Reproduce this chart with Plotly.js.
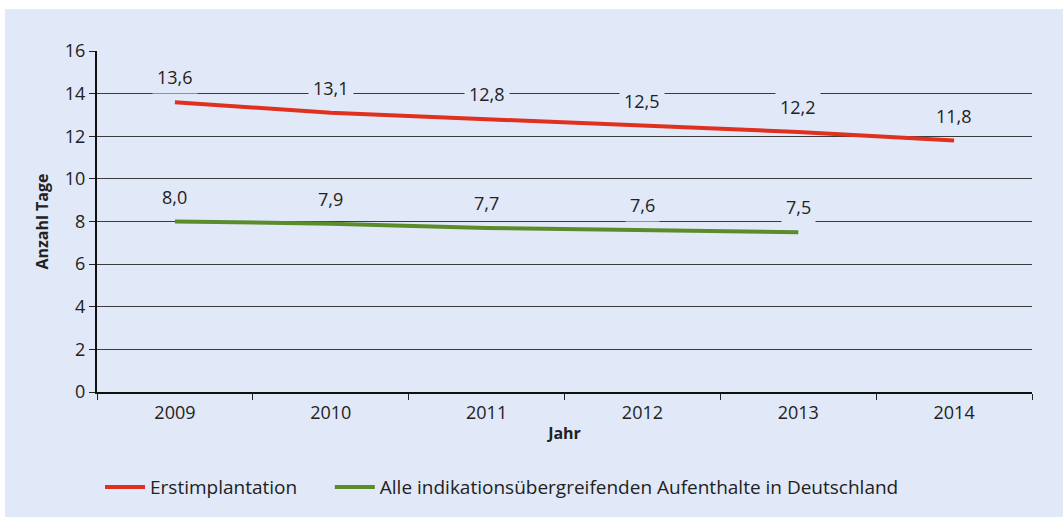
<!DOCTYPE html>
<html><head><meta charset="utf-8">
<script src="https://cdn.plot.ly/plotly-3.0.1.min.js"></script>
<style>html,body{margin:0;padding:0;background:#fff;}#chart{position:absolute;left:5px;top:9px;width:1058px;height:508px;}</style>
</head><body><div id="chart"></div>
<script>
const years = ["2009","2010","2011","2012","2013","2014"];
const erstimplantation = [13.6, 13.1, 12.8, 12.5, 12.2, 11.8];
const alleYears = ["2009","2010","2011","2012","2013"];
const alleAufenthalte = [8.0, 7.9, 7.7, 7.6, 7.5];
const yTicks = [0,2,4,6,8,10,12,14,16];

const bg = '#e1e8f7';
const fam = '"Open Sans", "Noto Sans", sans-serif';
const fmt = v => v.toFixed(1).replace('.', ',');
const mkFont = (size, extra) => Object.assign({family: fam, size: size, color: '#222'}, extra || {});

const traces = [
  {x: years, y: erstimplantation, type: 'scatter', mode: 'lines', name: 'Erstimplantation',
   line: {color: '#e0301e', width: 4}, legend: 'legend'},
  {x: alleYears, y: alleAufenthalte, type: 'scatter', mode: 'lines', name: 'Alle indikationsübergreifenden Aufenthalte in Deutschland',
   line: {color: '#5a8c2c', width: 4}, legend: 'legend2'}
];

const annotations = [];
[[alleYears, alleAufenthalte], [years, erstimplantation]].forEach(function(pair) {
  const xs = pair[0], ys = pair[1];
  xs.forEach(function(x, i) {
    annotations.push({
      x: years.indexOf(x), y: ys[i], xref: 'x', yref: 'y', text: fmt(ys[i]), showarrow: false,
      yshift: 25, bgcolor: bg, font: mkFont(18), borderpad: 4
    });
  });
});

const legendBase = {orientation: 'h', xref: 'container', yref: 'container', xanchor: 'left', y: 0.059, yanchor: 'middle',
  font: mkFont(19), bgcolor: 'rgba(0,0,0,0)', itemwidth: 40};

const layout = {
  width: 1058, height: 508,
  margin: {l: 92, r: 31, t: 42, b: 125, autoexpand: false},
  paper_bgcolor: bg, plot_bgcolor: bg,
  font: mkFont(18),
  showlegend: true,
  legend: Object.assign({}, legendBase, {x: 0.0898}),
  legend2: Object.assign({}, legendBase, {x: 0.307, font: mkFont(19)}),
  xaxis: {type: 'category', range: [-0.5, 5.5], tickson: 'boundaries', ticks: 'outside', ticklen: 6,
          tickwidth: 1, tickcolor: '#222', showline: true, linecolor: '#111', linewidth: 2,
          showgrid: false, zeroline: false, tickfont: mkFont(18), ticklabelstandoff: 3,
          title: {text: 'Jahr', font: mkFont(16, {weight: 'bold'}), standoff: 5}},
  yaxis: {range: [0, 16], tickvals: yTicks, ticktext: yTicks.map(String), ticks: 'outside', ticklen: 6,
          tickwidth: 1, tickcolor: '#222', showline: true, linecolor: '#111', linewidth: 2,
          showgrid: true, gridcolor: '#3a3a3a', gridwidth: 1, zeroline: false, tickfont: mkFont(18),
          title: {text: 'Anzahl Tage', font: mkFont(16, {weight: 'bold'}), standoff: 12}},
  annotations: annotations
};

Plotly.newPlot('chart', traces, layout, {displayModeBar: false});
</script></body></html>
